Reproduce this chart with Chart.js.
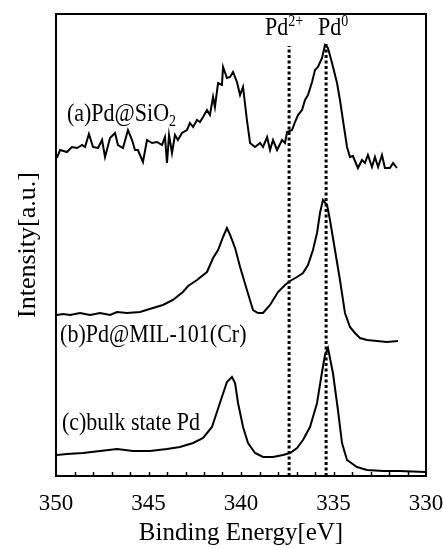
<!DOCTYPE html>
<html>
<head>
<meta charset="utf-8">
<script src="https://cdn.jsdelivr.net/npm/chart.js@4"></script>
<style>
  html, body { margin: 0; padding: 0; background: #fff; }
</style>
</head>
<body>
<canvas id="xpsChart" width="443" height="548"></canvas>
<script>
// Pd 3d XPS spectra, binding energy in eV, intensity in arbitrary units (curves stacked)
const energyA = [349.95,349.78,349.41,349.14,348.86,348.59,348.43,348.22,348.00,347.73,
  347.51,347.35,347.08,346.81,346.65,346.38,346.11,345.89,345.73,345.57,
  345.30,345.08,344.81,344.54,344.27,344.11,344.00,343.89,343.73,343.57,
  343.41,343.19,342.92,342.76,342.59,342.38,342.22,342.05,341.84,341.68,
  341.51,341.41,341.24,341.03,340.97,340.76,340.59,340.43,340.22,340.05,
  339.89,339.68,339.51,339.24,338.97,338.81,338.59,338.43,338.27,338.05,
  337.78,337.62,337.51,337.24,337.08,336.92,336.70,336.54,336.38,336.16,
  336.00,335.84,335.62,335.46,335.30,335.08,334.81,334.65,334.49,334.27,
  334.11,333.95,333.68,333.46,333.30,333.14,332.92,332.76,332.59,332.38,
  332.22,331.95,331.78,331.57];
const intensityA = [318,326,324,329,328,331,329,342,329,328,
  336,319,338,343,331,328,346,336,326,326,
  314,336,333,334,331,339,313,341,323,341,
  336,343,346,353,349,356,354,359,366,361,
  379,369,393,391,409,398,399,404,394,381,
  389,356,333,329,333,329,339,326,336,326,
  336,333,344,346,354,361,366,376,381,394,
  406,409,418,431,428,413,393,376,356,329,
  319,320,308,316,313,321,309,319,309,321,
  308,308,313,308];

const energyB = [349.95,349.62,349.24,348.70,348.16,347.62,347.08,346.70,346.16,345.46,
  344.76,344.22,343.68,343.14,342.86,342.38,341.84,341.51,341.24,340.97,
  340.76,340.59,340.32,340.05,339.68,339.35,339.08,338.81,338.43,338.00,
  337.62,337.35,336.97,336.65,336.38,336.11,335.89,335.73,335.57,335.35,
  335.19,334.92,334.65,334.38,334.11,333.84,333.57,333.19,332.65,332.11,
  331.51];
const intensityB = [161,162,161,163,161,163,161,164,163,164,
  168,171,176,184,190,196,204,218,226,239,
  248,241,228,209,186,166,163,163,171,184,
  191,195,199,203,211,226,243,263,276,271,
  256,226,196,163,149,143,138,136,135,134,
  135];

const energyC = [349.95,349.41,348.54,347.62,346.70,345.84,344.92,344.00,343.30,342.59,
  342.05,341.57,341.14,340.76,340.49,340.32,340.16,339.89,339.62,339.24,
  338.81,338.27,337.73,337.35,336.97,336.65,336.27,335.89,335.62,335.46,
  335.30,335.03,334.76,334.54,334.27,333.73,333.19,332.32,331.41,330.05];
const intensityC = [21,22,23,25,27,25,25,27,29,33,
  38,49,73,94,99,93,73,49,33,23,
  19,19,21,23,28,36,49,73,104,121,
  128,103,66,33,16,9,6,5,5,4];

// reference positions of Pd2+ and Pd0 (dotted markers)
const refEnergies = [337.4, 335.4];
const refTops = [430, 433];

const xTickLabels = [350, 345, 340, 335, 330];

const serif = '"Liberation Serif", "Times New Roman", serif';

function toPoints(xs, ys) {
  return xs.map((x, i) => ({ x: x, y: ys[i] }));
}

function curve(xs, ys) {
  return {
    data: toPoints(xs, ys),
    borderColor: '#000',
    borderWidth: 2,
    pointRadius: 0,
    tension: 0,
    fill: false
  };
}

function refLine(i) {
  return {
    data: [{ x: refEnergies[i], y: 0 }, { x: refEnergies[i], y: refTops[i] }],
    borderColor: '#000',
    borderWidth: 3,
    borderDash: [3, 2.5],
    borderCapStyle: 'butt',
    pointRadius: 0,
    fill: false
  };
}

// text annotations, anchored in data units (energy, intensity)
// part kinds: 0 normal, 1 subscript, 2 superscript
const notes = [
  { e: 349.41, v: 355, parts: [['(a)Pd@SiO', 0], ['2', 1]] },
  { e: 349.78, v: 134, parts: [['(b)Pd@MIL-101(Cr)', 0]] },
  { e: 349.68, v: 46, parts: [['(c)bulk state Pd', 0]] },
  { e: 338.70, v: 441, parts: [['Pd', 0], ['2+', 2]] },
  { e: 335.84, v: 441, parts: [['Pd', 0], ['0', 2]] }
];

const framePlugin = {
  id: 'frame',
  afterDraw(chart) {
    const ctx = chart.ctx;
    const a = chart.chartArea;
    const xs = chart.scales.x;
    const ys = chart.scales.y;
    ctx.save();
    ctx.strokeStyle = '#000';
    ctx.lineWidth = 2;
    ctx.strokeRect(a.left, a.top, a.right - a.left, a.bottom - a.top);
    // inward minor ticks every 1 eV
    ctx.lineWidth = 1.5;
    xs.ticks.forEach(t => {
      if (t.value <= xs.min || t.value >= xs.max) return;
      const px = Math.round(xs.getPixelForValue(t.value)) + 0.5;
      ctx.beginPath();
      ctx.moveTo(px, a.bottom);
      ctx.lineTo(px, a.bottom - 4);
      ctx.stroke();
    });
    // annotations (source figure text is slightly tall, so stretch vertically)
    ctx.fillStyle = '#000';
    ctx.textBaseline = 'alphabetic';
    ctx.textAlign = 'left';
    notes.forEach(n => {
      const px = xs.getPixelForValue(n.e);
      const py = ys.getPixelForValue(n.v);
      ctx.save();
      ctx.translate(px, py);
      ctx.scale(1, 1.15);
      let cx = 0;
      n.parts.forEach(p => {
        const small = p[1] !== 0;
        ctx.font = (small ? 14 : 22) + 'px ' + serif;
        const dy = p[1] === 1 ? 4 : (p[1] === 2 ? -8 : 0);
        ctx.fillText(p[0], cx, dy);
        cx += ctx.measureText(p[0]).width;
      });
      ctx.restore();
    });
    ctx.restore();
  }
};

const ctx = document.getElementById('xpsChart').getContext('2d');
const xpsChart = new Chart(ctx, {
  type: 'line',
  data: {
    datasets: [
      curve(energyA, intensityA),
      curve(energyB, intensityB),
      curve(energyC, intensityC),
      refLine(0),
      refLine(1)
    ]
  },
  options: {
    responsive: false,
    animation: false,
    layout: { padding: { top: 14, right: 17, left: 0, bottom: 0 } },
    plugins: {
      legend: { display: false },
      tooltip: { enabled: false }
    },
    scales: {
      x: {
        type: 'linear',
        reverse: true,
        min: 330,
        max: 350,
        grid: { display: false },
        border: { display: false },
        ticks: {
          stepSize: 1,
          autoSkip: false,
          maxRotation: 0,
          padding: 6,
          color: '#000',
          font: { family: serif, size: 23 },
          callback: v => (xTickLabels.includes(v) ? String(v) : '')
        },
        title: {
          display: true,
          text: 'Binding Energy[eV]',
          color: '#000',
          font: { family: serif, size: 25 },
          padding: { top: 0, bottom: 0 }
        },
        afterFit: s => { s.height = 72; s.paddingLeft = 0; s.paddingRight = 0; }
      },
      y: {
        min: 0,
        max: 462,
        grid: { display: false },
        border: { display: false },
        ticks: { display: false },
        title: {
          display: true,
          text: 'Intensity[a.u.]',
          color: '#000',
          font: { family: serif, size: 26 },
          padding: { top: 13, bottom: 0 }
        },
        afterFit: s => { s.width = 56; }
      }
    }
  },
  plugins: [framePlugin]
});
</script>
</body>
</html>
